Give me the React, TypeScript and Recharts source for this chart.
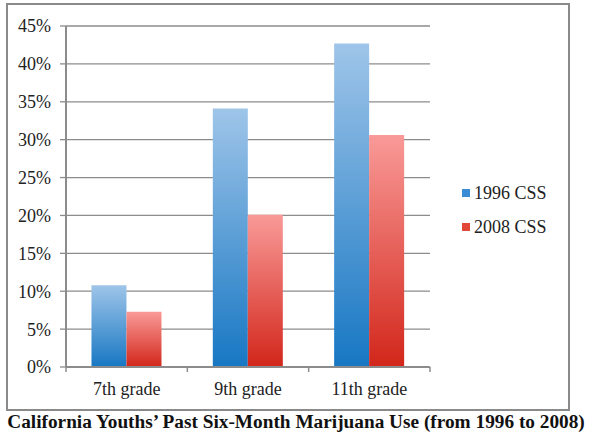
import React from "react";
import { Bar, BarChart, CartesianGrid, XAxis, YAxis } from "recharts";

const grades = ["7th grade", "9th grade", "11th grade"];
const css1996 = [10.8, 34.1, 42.7];
const css2008 = [7.3, 20.1, 30.6];
const yTicks = [0, 5, 10, 15, 20, 25, 30, 35, 40, 45];
const seriesNames = ["1996 CSS", "2008 CSS"];
const title = "California Youths\u2019 Past Six-Month Marijuana Use (from 1996 to 2008)";

const rows = grades.map((grade, i) => ({ grade, a: css1996[i], b: css2008[i] }));

const SERIF = "Liberation Serif";
const GRID = "#8c8c8c";

function GradeTick(props: any) {
  const { x, y, payload, index, visibleTicksCount } = props;
  const half = payload.offset || 0;
  return (
    <g>
      <line x1={x - half} x2={x - half} y1={y - 8} y2={y - 3} stroke={GRID} strokeWidth={1.5} />
      {index === visibleTicksCount - 1 && (
        <line x1={x + half} x2={x + half} y1={y - 8} y2={y - 3} stroke={GRID} strokeWidth={1.5} />
      )}
      <text x={x} y={y + 20} textAnchor="middle" style={{ fontFamily: SERIF, fontSize: 18 }} fill="#222">
        {payload.value}
      </text>
    </g>
  );
}

export default function App() {
  const swatches = ["#3a8dd4", "#e2483a"];
  return (
    <div style={{ position: "absolute", left: 0, top: 0, width: 600, height: 444, background: "#fff", fontFamily: SERIF }}>
      <div
        style={{
          position: "absolute",
          left: 6,
          top: 3,
          width: 560,
          height: 404,
          border: "2px solid #8a8a8a",
        }}
      />
      <BarChart
        width={600}
        height={444}
        data={rows}
        margin={{ top: 26, right: 170, bottom: 47, left: 6 }}
        barCategoryGap="21%"
        barGap={0}
        style={{ position: "absolute", left: 0, top: 0, fontFamily: SERIF }}
      >
        <defs>
          <linearGradient id="blueFill" x1="0" y1="0" x2="0" y2="1">
            <stop offset="0%" stopColor="#9fc5e9" />
            <stop offset="100%" stopColor="#1777c3" />
          </linearGradient>
          <linearGradient id="redFill" x1="0" y1="0" x2="0" y2="1">
            <stop offset="0%" stopColor="#f99a98" />
            <stop offset="100%" stopColor="#d2261a" />
          </linearGradient>
        </defs>
        <CartesianGrid vertical={false} stroke={GRID} strokeWidth={1.3} />
        <XAxis
          dataKey="grade"
          height={30}
          axisLine={{ stroke: GRID, strokeWidth: 2 }}
          tickLine={false}
          tick={<GradeTick />}
          interval={0}
        />
        <YAxis
          width={60}
          domain={[0, 45]}
          ticks={yTicks}
          tickFormatter={(v: number) => `${v}%`}
          axisLine={{ stroke: GRID, strokeWidth: 2 }}
          tickLine={{ stroke: GRID, strokeWidth: 1.3 }}
          tickSize={6}
          tickMargin={9}
          tick={{ style: { fontFamily: SERIF, fontSize: 18 }, fill: "#222" }}
        />
        <Bar dataKey="a" name={seriesNames[0]} fill="url(#blueFill)" isAnimationActive={false} />
        <Bar dataKey="b" name={seriesNames[1]} fill="url(#redFill)" isAnimationActive={false} />
      </BarChart>
      <div style={{ position: "absolute", left: 462, top: 176, fontSize: 18, color: "#222" }}>
        {seriesNames.map((name, i) => (
          <div key={name} style={{ display: "flex", alignItems: "center", height: 34 }}>
            <span
              style={{ display: "inline-block", width: 8, height: 8, background: swatches[i], marginRight: 4 }}
            />
            {name}
          </div>
        ))}
      </div>
      <div
        style={{
          position: "absolute",
          left: 0,
          top: 411,
          width: 592,
          textAlign: "center",
          fontWeight: "bold",
          fontSize: 19.3,
          color: "#111",
          whiteSpace: "nowrap",
        }}
      >
        {title}
      </div>
    </div>
  );
}
